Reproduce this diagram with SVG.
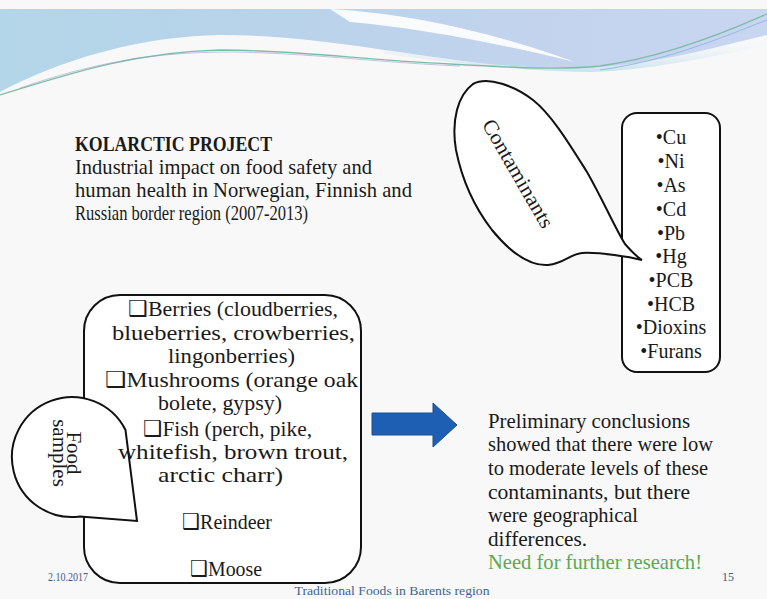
<svg xmlns="http://www.w3.org/2000/svg" width="767" height="599" viewBox="0 0 767 599">
<defs>
<linearGradient id="band" x1="0" y1="0" x2="1" y2="0">
<stop offset="0" stop-color="#b3d6e8"/>
<stop offset="0.35" stop-color="#b8d3ea"/>
<stop offset="0.7" stop-color="#c3d3ee"/>
<stop offset="1" stop-color="#c8d6f0"/>
</linearGradient>
<linearGradient id="band2" x1="0" y1="0" x2="0" y2="1">
<stop offset="0" stop-color="#ffffff" stop-opacity="0"/>
<stop offset="1" stop-color="#a9d3e6" stop-opacity="0.6"/>
</linearGradient>
<style>
.serif{font-family:"Liberation Serif","DejaVu Serif",serif;fill:#1a1a1a}
.shape{fill:#ffffff;stroke:#111111;stroke-width:2}
.list{font-size:22px}
.cont{font-size:20px;text-anchor:middle}
.concl{font-size:22px}
.foot{font-family:"Liberation Serif","DejaVu Serif",serif;font-size:12px;fill:#3d6690}
</style>
</defs>
<rect width="767" height="599" fill="#f8f8f8"/>
<g id="header">
<path d="M0,9 H767 V35 C705,50 645,66 585,68 C505,70 445,58 384,50 C330,42 280,35 220,35 C140,36 60,60 0,92 Z" fill="url(#band)"/>
<path d="M384,50 C445,58 505,70 585,68 C645,66 705,50 767,35 V45 C705,58 650,70 590,72 C520,72 450,62 384,54 Z" fill="url(#band2)"/>
<path d="M330,9 C420,14 510,38 575,62 C500,44 420,28 350,22 Z" fill="#ffffff" opacity="0.9"/>
<path d="M0,95 C80,70 140,52 220,50 C300,50 360,60 450,64 C520,68 560,70 600,66 C660,58 720,35 767,14" fill="none" stroke="#7fbca8" stroke-width="1.3"/>
<path d="M20,88 C90,64 150,52 230,52 C310,53 370,62 460,66" fill="none" stroke="#9a9ad0" stroke-width="0.8" opacity="0.7"/>
<path d="M600,70 C670,60 720,38 767,20" fill="none" stroke="#8ab0e0" stroke-width="1" opacity="0.8"/>
</g>
<g id="title" class="serif">
<text x="75" y="151" font-size="21" font-weight="bold" textLength="197" lengthAdjust="spacingAndGlyphs">KOLARCTIC PROJECT</text>
<text x="75" y="174" font-size="22" textLength="297" lengthAdjust="spacingAndGlyphs">Industrial impact on food safety and</text>
<text x="75" y="197" font-size="22" textLength="337" lengthAdjust="spacingAndGlyphs">human health in Norwegian, Finnish and</text>
<text x="75" y="220" font-size="22" textLength="233" lengthAdjust="spacingAndGlyphs">Russian border region (2007-2013)</text>
</g>
<g id="contaminant-list">
<rect class="shape" x="622" y="113" width="98" height="259" rx="15" ry="15"/>
<g class="serif cont">
<text x="671" y="144">•Cu</text>
<text x="671" y="168">•Ni</text>
<text x="671" y="192">•As</text>
<text x="671" y="216">•Cd</text>
<text x="671" y="240">•Pb</text>
<text x="671" y="263">•Hg</text>
<text x="671" y="287">•PCB</text>
<text x="671" y="311">•HCB</text>
<text x="671" y="334">•Dioxins</text>
<text x="671" y="358">•Furans</text>
</g>
</g>
<g id="contaminants-bubble">
<path class="shape" d="M642,260 C630,257 600,252 582,253 C570,254 565,263 548,265 C530,266 510,252 492,230 C475,208 462,180 456,150 C451,120 458,95 473,84 C488,76 515,86 533,100 C552,115 570,145 587,172 C603,200 615,228 625,244 C632,252 637,257 642,260 Z"/>
<text class="serif" font-size="21" text-anchor="middle" transform="translate(512,177) rotate(60)" textLength="122" lengthAdjust="spacingAndGlyphs">Contaminants</text>
</g>
<g id="food-box">
<rect class="shape" x="84" y="295" width="277" height="288" rx="36" ry="36"/>
</g>
<g id="food-samples">
<path class="shape" d="M137,521 L125.5,430 A60,60 0 1,0 80,516.5 Z"/>
<g transform="translate(67,453) rotate(90)" class="serif" font-size="21" text-anchor="middle">
<text x="0" y="0">Food</text>
<text x="0" y="14">samples</text>
</g>
</g>
<g id="food-list" class="serif list">
<text x="128" y="316" textLength="210" lengthAdjust="spacingAndGlyphs">❑Berries (cloudberries,</text>
<text x="112" y="340" textLength="243" lengthAdjust="spacingAndGlyphs">blueberries, crowberries,</text>
<text x="168" y="363" textLength="127" lengthAdjust="spacingAndGlyphs">lingonberries)</text>
<text x="105" y="387" textLength="253" lengthAdjust="spacingAndGlyphs">❑Mushrooms (orange oak</text>
<text x="158" y="410" textLength="124" lengthAdjust="spacingAndGlyphs">bolete, gypsy)</text>
<text x="143" y="436" textLength="169" lengthAdjust="spacingAndGlyphs">❑Fish (perch, pike,</text>
<text x="118" y="459" textLength="230" lengthAdjust="spacingAndGlyphs">whitefish, brown trout,</text>
<text x="158" y="482" textLength="125" lengthAdjust="spacingAndGlyphs">arctic charr)</text>
<text x="182" y="529" textLength="90" lengthAdjust="spacingAndGlyphs">❑Reindeer</text>
<text x="190" y="576" textLength="72" lengthAdjust="spacingAndGlyphs">❑Moose</text>
</g>
<g id="connectors">
<path d="M372,413 H433 V403 L457,425 L433,447 V435 H372 Z" fill="#1f5fb3" stroke="#1a4f94" stroke-width="1"/>
</g>
<g id="conclusion" class="serif concl">
<text x="488" y="428" textLength="202" lengthAdjust="spacingAndGlyphs">Preliminary conclusions</text>
<text x="488" y="451" textLength="225" lengthAdjust="spacingAndGlyphs">showed that there were low</text>
<text x="488" y="475" textLength="220" lengthAdjust="spacingAndGlyphs">to moderate levels of these</text>
<text x="488" y="499" textLength="202" lengthAdjust="spacingAndGlyphs">contaminants, but there</text>
<text x="488" y="522" textLength="150" lengthAdjust="spacingAndGlyphs">were geographical</text>
<text x="488" y="546" textLength="99" lengthAdjust="spacingAndGlyphs">differences.</text>
<text x="488" y="569" textLength="214" lengthAdjust="spacingAndGlyphs" style="fill:#5aaa50">Need for further research!</text>
</g>
<g id="footer">
<text class="foot" x="48" y="581" font-size="11" textLength="40" lengthAdjust="spacingAndGlyphs" style="fill:#3f5d7c">2.10.2017</text>
<text class="foot" x="392" y="595" text-anchor="middle" textLength="195" lengthAdjust="spacingAndGlyphs">Traditional Foods in Barents region</text>
<text class="foot" x="722" y="581" font-size="11" style="fill:#3f5d7c">15</text>
</g>
</svg>
